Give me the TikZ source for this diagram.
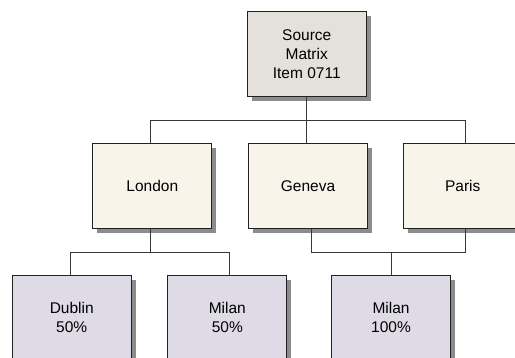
\documentclass[tikz,border=0pt]{standalone}
\usepackage{fontspec}
\setmainfont{Liberation Sans}
\usetikzlibrary{shadows}
\definecolor{srcfill}{HTML}{E4E0DA}
\definecolor{midfill}{HTML}{F8F4EA}
\definecolor{lowfill}{HTML}{DEDAE6}
\definecolor{shadowgray}{HTML}{8C8C8C}
\definecolor{edgegray}{HTML}{222222}
\begin{document}
\begin{tikzpicture}[x=1pt,y=-1pt,
  box/.style={draw=edgegray, line width=1.1pt, minimum width=119pt, minimum height=85pt,
    inner sep=0pt, align=center, font=\fontsize{15.5}{19}\selectfont, anchor=north west,
    drop shadow={shadow xshift=4.5pt, shadow yshift=-4.5pt, fill=shadowgray, opacity=1}},
  srcbox/.style={box, fill=srcfill},
  midbox/.style={box, fill=midfill},
  lowbox/.style={box, fill=lowfill},
  conn/.style={draw=edgegray!90, line width=0.9pt}]
\useasboundingbox (0,0) rectangle (515,358);
\begin{scope}
\clip (0,0) rectangle (515,358);
\node[srcbox] (src) at (246.7,10.7) {Source\\Matrix\\Item 0711};
\node[midbox] (lon) at (92.3,142.7) {London};
\node[midbox] (gen) at (248,142.7) {Geneva};
\node[midbox] (par) at (402.7,142.7) {Paris};
\node[lowbox] (dub) at (11.7,274.7) {Dublin\\50\%};
\node[lowbox] (mil) at (167.3,274.7) {Milan\\50\%};
\node[lowbox] (mil2) at (331,274.7) {Milan\\100\%};
\end{scope}
% top bus
\draw[conn] (src.south) -- (src.south |- gen.north);
\draw[conn] (lon.north -| 150.3,0) |- (308.3,120.3) -| (par.north -| 465.7,0);
% London to children
\coordinate (lj) at (150.3,252.3);
\draw[conn] (lon.south -| lj) -- (lj);
\draw[conn] (dub.north -| 70.3,0) |- (lj) -| (mil.north -| 229.3,0);
% Geneva/Paris to Milan 100%
\coordinate (gj) at (391,252.3);
\draw[conn] (311.3,229.5) |- (gj) -| (465.7,229.5);
\draw[conn] (gj) -- (mil2.north -| gj);
\end{tikzpicture}
\end{document}
